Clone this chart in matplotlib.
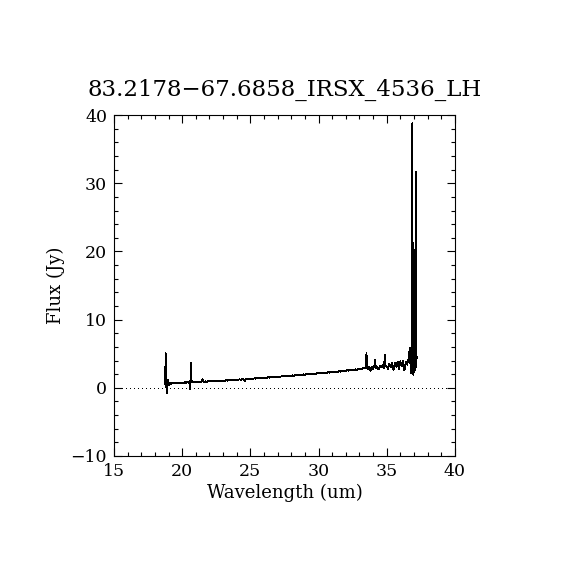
import matplotlib
matplotlib.use("Agg")
import matplotlib.pyplot as plt
from matplotlib.ticker import MultipleLocator

# spectrum
wavelength = [
    18.76, 18.78, 18.80, 18.82, 18.84, 18.86, 18.88, 18.90, 18.93, 18.96,
    19.00, 19.05, 19.10, 19.15, 19.20, 19.30, 19.40, 19.50, 19.60, 19.70,
    19.80, 19.90, 20.00, 20.10, 20.20, 20.30, 20.40, 20.50, 20.55, 20.58,
    20.61, 20.64, 20.67, 20.70, 20.75, 20.80, 20.90,
    21.0, 21.1, 21.2, 21.3, 21.4, 21.5, 21.6, 21.7, 21.8, 21.9,
    22.0, 22.1, 22.2, 22.3, 22.4, 22.5, 22.6, 22.7, 22.8, 22.9,
    23.0, 23.1, 23.2, 23.3, 23.4, 23.5, 23.6, 23.7, 23.8, 23.9,
    24.0, 24.1, 24.2, 24.3, 24.4, 24.5, 24.6, 24.7, 24.8, 24.9,
    25.0, 25.1, 25.2, 25.3, 25.4, 25.5, 25.6, 25.7, 25.8, 25.9,
    26.0, 26.1, 26.2, 26.3, 26.4, 26.5, 26.6, 26.7, 26.8, 26.9,
    27.0, 27.1, 27.2, 27.3, 27.4, 27.5, 27.6, 27.7, 27.8, 27.9,
    28.0, 28.1, 28.2, 28.3, 28.4, 28.5, 28.6, 28.7, 28.8, 28.9,
    29.0, 29.1, 29.2, 29.3, 29.4, 29.5, 29.6, 29.7, 29.8, 29.9,
    30.0, 30.1, 30.2, 30.3, 30.4, 30.5, 30.6, 30.7, 30.8, 30.9,
    31.0, 31.1, 31.2, 31.3, 31.4, 31.5, 31.6, 31.7, 31.8, 31.9,
    32.0, 32.1, 32.2, 32.3, 32.4, 32.5, 32.6, 32.7, 32.8, 32.9,
    33.0, 33.1, 33.2, 33.3, 33.4,
    33.45, 33.52, 33.56, 33.60,
    33.70, 33.80, 33.90, 34.00, 34.10, 34.15, 34.20, 34.30, 34.40, 34.50,
    34.60, 34.70, 34.80, 34.87, 34.92, 35.00, 35.10, 35.20, 35.30, 35.40,
    35.50, 35.60, 35.70, 35.80, 35.90, 36.00, 36.10, 36.20, 36.30, 36.40,
    36.50, 36.60, 36.70, 36.75, 36.80, 36.85, 36.88, 36.92, 36.96, 37.00,
    37.05, 37.10, 37.13, 37.16, 37.20, 37.24,
]
flux = [
    0.50, 5.20, 4.10, 1.30, 0.30, -0.80, 0.90, 0.20, 1.20, 0.50,
    0.70, 0.40, 0.65, 0.55, 0.68, 0.65, 0.72, 0.70, 0.74, 0.66,
    0.75, 0.72, 0.78, 0.74, 0.80, 0.76, 0.85, 0.70, 1.00, -0.20,
    0.90, 3.60, 1.60, 0.80, 1.00, 0.78, 0.84,
    0.80, 0.88, 0.82, 0.90, 0.84, 1.25, 0.86, 0.95, 0.88, 0.96,
    0.92, 1.00, 0.94, 0.98, 1.02, 0.95, 1.04, 1.00, 1.06, 1.02,
    1.08, 1.03, 1.10, 1.06, 1.12, 1.08, 1.15, 1.10, 1.18, 1.14,
    1.20, 1.16, 1.24, 1.20, 1.27, 1.22, 1.05, 1.30, 1.26, 1.33,
    1.30, 1.36, 1.32, 1.40, 1.35, 1.42, 1.38, 1.45, 1.40, 1.48,
    1.44, 1.50, 1.46, 1.54, 1.50, 1.57, 1.52, 1.60, 1.56, 1.63,
    1.60, 1.66, 1.62, 1.70, 1.66, 1.73, 1.68, 1.76, 1.72, 1.80,
    1.76, 1.83, 1.79, 1.86, 1.82, 1.90, 1.85, 1.93, 1.88, 1.97,
    1.93, 2.00, 1.96, 2.04, 2.00, 2.07, 2.02, 2.10, 2.05, 2.14,
    2.10, 2.17, 2.12, 2.21, 2.16, 2.24, 2.19, 2.28, 2.22, 2.32,
    2.27, 2.36, 2.30, 2.40, 2.34, 2.44, 2.38, 2.48, 2.42, 2.53,
    2.47, 2.57, 2.51, 2.62, 2.55, 2.66, 2.60, 2.71, 2.64, 2.76,
    2.70, 2.82, 2.75, 2.90, 2.85,
    2.90, 5.10, 3.10, 2.70,
    3.00, 2.50, 3.10, 2.80, 3.20, 4.10, 2.90, 3.10, 2.70, 3.20,
    3.00, 3.30, 2.90, 4.80, 3.20, 3.10, 2.80, 3.50, 3.00, 3.60,
    2.60, 3.70, 3.10, 3.80, 2.70, 3.90, 3.20, 4.00, 2.60, 3.80,
    3.40, 4.20, 5.80, 3.00, 2.20, 3.50, 38.80, 3.00, 1.90, 3.20,
    2.50, 16.80, 31.70, 3.00, 4.60, 4.40,
]

title = "83.2178\u221267.6858_IRSX_4536_LH"

plt.rcParams["font.family"] = ["DejaVu Serif"]

fig = plt.figure(figsize=(5.7, 5.7), dpi=100)
ax = fig.add_axes([0.2, 0.2, 0.598, 0.598])

ax.plot(wavelength, flux, color="black", linewidth=0.6, antialiased=False)
ax.axhline(0, color="black", linewidth=0.72, linestyle=(0, (1, 3.3)),
           antialiased=False)

ax.set_xlim(15, 40)
ax.set_ylim(-10, 40)
ax.xaxis.set_major_locator(MultipleLocator(5))
ax.xaxis.set_minor_locator(MultipleLocator(1))
ax.yaxis.set_major_locator(MultipleLocator(10))
ax.yaxis.set_minor_locator(MultipleLocator(2))
ax.tick_params(which="both", direction="in", top=True, right=True,
               labelsize=12.5, width=0.8)
ax.tick_params(which="major", length=6, pad=5)
ax.tick_params(which="minor", length=3)
for s in ax.spines.values():
    s.set_linewidth(0.8)

ax.set_xlabel("Wavelength (um)", fontsize=13, labelpad=3)
ax.set_ylabel("Flux (Jy)", fontsize=13, labelpad=4)
ax.set_title(title, fontsize=16.5, pad=14)

fig.savefig("out.png", dpi=100)
